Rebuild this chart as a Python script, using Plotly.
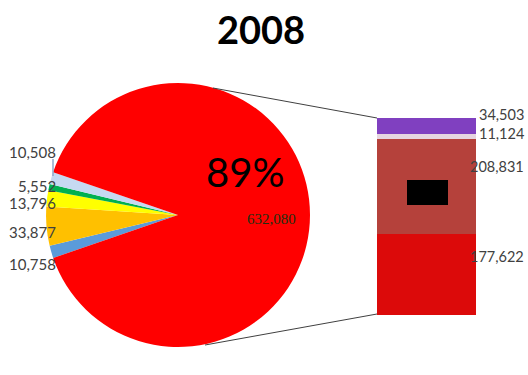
import plotly.graph_objects as go

W, H = 528, 375

# ---- data ----
title = "2008"
pie_labels = ["10,758", "33,877", "13,796", "5,552", "10,508", "632,080"]
pie_values = [10758, 33877, 13796, 5552, 10508, 632080]
pie_colors = ["#5B9BDA", "#FFC000", "#FFFF00", "#00B050", "#C6D9F1", "#FF0000"]
pct_label = "89%"

bar_labels = ["177,622", "208,831", "11,124", "34,503"]
bar_values = [177622, 208831, 11124, 34503]
bar_colors = ["#DC0A0A", "#B5413B", "#E6D5E0", "#8040C0"]


def px(x):
    return x / W


def py(y):
    return 1 - y / H


# pie geometry (pixels)
cx, cy, r = 178, 215, 132

fig = go.Figure()
fig.add_trace(go.Pie(
    values=pie_values, labels=pie_labels, sort=False, direction="clockwise",
    rotation=251, textinfo="none", hoverinfo="skip", showlegend=False,
    marker=dict(colors=pie_colors, line=dict(width=0)),
    domain=dict(x=[px(cx - r), px(cx + r)], y=[py(cy + r), py(cy - r)]),
))

for lab, val, col in zip(bar_labels, bar_values, bar_colors):
    fig.add_trace(go.Bar(
        x=[0], y=[val], marker=dict(color=col, line=dict(width=0)), width=1,
        hoverinfo="skip", showlegend=False, xaxis="x", yaxis="y",
    ))

bar_x0, bar_x1, bar_top, bar_bot = 377, 476, 118, 315

fig.update_layout(
    width=W, height=H, margin=dict(l=0, r=0, t=0, b=0),
    paper_bgcolor="white", plot_bgcolor="rgba(0,0,0,0)",
    barmode="stack", bargap=0,
    xaxis=dict(domain=[px(bar_x0), px(bar_x1)], range=[-0.5, 0.5], visible=False, fixedrange=True),
    yaxis=dict(domain=[py(bar_bot), py(bar_top)], range=[0, sum(bar_values)], visible=False, fixedrange=True),
)

annots = []


def ann(text, x, y, size, family="Lato", color="#404040", xanchor="center"):
    annots.append(dict(text=text, x=px(x), y=py(y), xref="paper", yref="paper",
                       xanchor=xanchor, yanchor="middle", showarrow=False,
                       font=dict(family=family, size=size, color=color)))


ann("<b>%s</b>" % title, 261, 29, 38, color="black")
ann(pct_label, 245, 172, 40, color="black")
ann(pie_labels[5], 271, 219, 15, family="Liberation Serif", color="#203010")

left_y = {"10,508": 152, "5,552": 186, "13,796": 203, "33,877": 232, "10,758": 264}
for lab in pie_labels[:5]:
    ann(lab, 58, left_y[lab], 15, xanchor="right")

right_y = {"34,503": 115, "11,124": 133, "208,831": 166, "177,622": 256}
for lab in bar_labels:
    ann(lab, 526, right_y[lab], 14.5, xanchor="right")

fig.update_layout(annotations=annots)

shapes = [
    # leader lines pie -> bar
    dict(type="line", xref="paper", yref="paper", x0=px(213), y0=py(88), x1=px(bar_x0), y1=py(bar_top),
         line=dict(color="#404040", width=1)),
    dict(type="line", xref="paper", yref="paper", x0=px(205), y0=py(345), x1=px(bar_x0), y1=py(bar_bot - 1),
         line=dict(color="#404040", width=1)),
    # small label leader
    dict(type="line", xref="paper", yref="paper", x0=px(53), y0=py(159), x1=px(53), y1=py(176),
         line=dict(color="#8EA9C8", width=1.5)),
    # black redaction box
    dict(type="rect", xref="paper", yref="paper", x0=px(407), y0=py(205), x1=px(448), y1=py(180),
         fillcolor="black", line=dict(width=0)),
]
fig.update_layout(shapes=shapes)

fig.write_html("out.html")
